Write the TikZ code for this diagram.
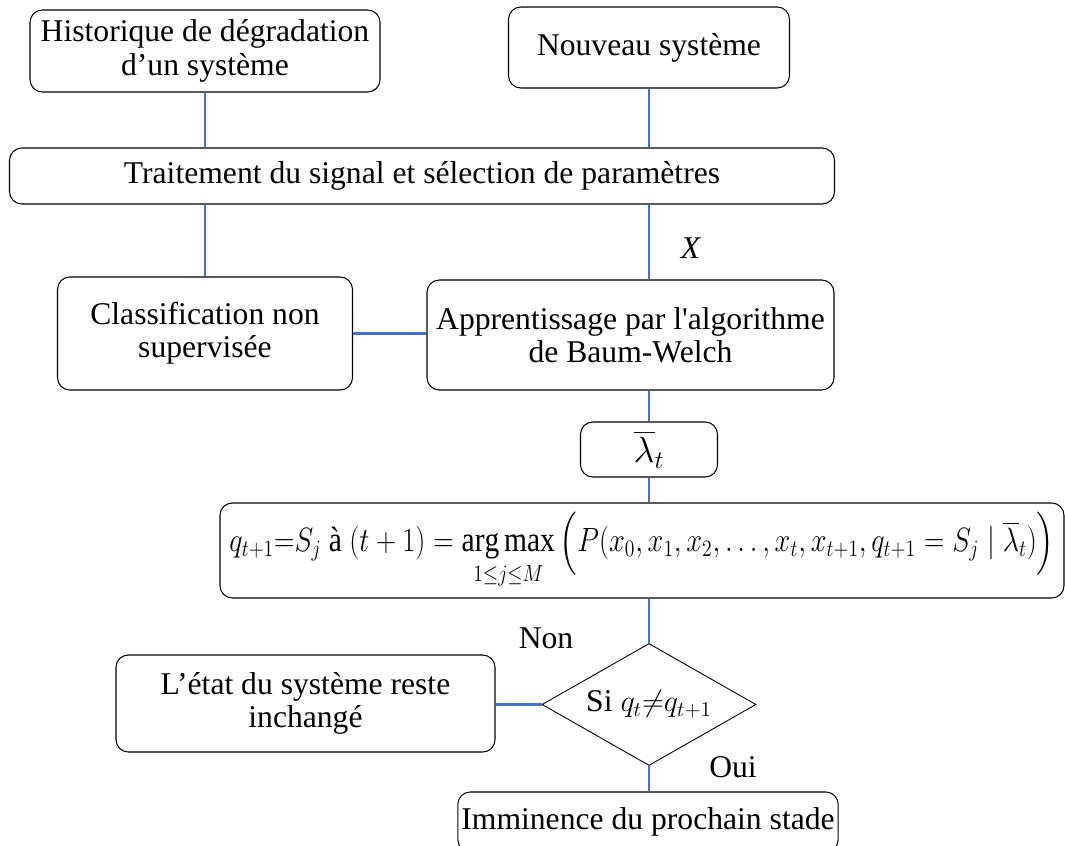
\documentclass[tikz,border=0pt]{standalone}
\usepackage{amsmath}
\usepackage{amssymb}
\usepackage{graphicx}
\usepackage{fontspec}
\setmainfont{Liberation Serif}
\usepackage{xcolor}
\usepackage{tikz}
\usetikzlibrary{shapes.geometric}
\definecolor{linkblue}{RGB}{68,114,196}

\begin{document}
\begin{tikzpicture}[
  box/.style={draw,rounded corners=7pt,line width=0.6pt,align=center,inner sep=2pt,font=\fontsize{18}{19}\selectfont},
  link/.style={draw=linkblue,line width=1.4pt},
  lbl/.style={font=\fontsize{18}{19}\selectfont}]
\useasboundingbox (0,0) rectangle (21.3,-16.92);
\node[box,minimum width=7cm,minimum height=1.64cm] (hist) at (4.1,-1.02) {Historique de dégradation\\d’un système};
\node[box,minimum width=5.62cm,minimum height=1.62cm] (nouv) at (12.98,-0.95) {Nouveau système};
\node[box,minimum width=16.5cm,minimum height=1.12cm] (trait) at (8.44,-3.52) {Traitement du signal et sélection de paramètres};
\node[box,minimum width=5.9cm,minimum height=2.26cm] (classif) at (4.1,-6.67) {Classification non\\supervisée};
\node[box,minimum width=8.14cm,minimum height=2.2cm] (appr) at (12.61,-6.7) {Apprentissage par l\textquotesingle algorithme\\de Baum-Welch};
\node[box,minimum width=2.74cm,minimum height=1.1cm] (lambda) at (12.98,-8.99) {\fontsize{20}{24}\selectfont$\overline{\lambda}_t$};
\node[box,minimum width=16.88cm,minimum height=1.9cm] (formula) at (12.84,-11.01) {\resizebox*{16.5cm}{1.55cm}{$q_{t+1}{=}S_j$ à $(t+1)=\mathop{\mathrm{arg\,max}}\limits_{1\le j\le M}\Big(P(x_0,x_1,x_2,\ldots,x_t,x_{t+1},q_{t+1}=S_j\mid\overline{\lambda}_t)\Big)$}};
\node[draw,diamond,line width=0.5pt,aspect=1.75,inner sep=0pt,minimum width=4.28cm,minimum height=2.44cm,lbl] (test) at (12.98,-14.09) {Si $q_t{\neq}q_{t+1}$};
\node[box,minimum width=7.58cm,minimum height=1.94cm] (etat) at (6.11,-14.07) {L’état du système reste\\inchangé};
\node[box,minimum width=7.56cm,minimum height=1.2cm] (immin) at (12.96,-16.44) {Imminence du prochain stade};
\node[lbl] (xlbl) at (13.82,-4.96) {\textit{X}};
\node[lbl] (non) at (10.92,-12.76) {Non};
\node[lbl] (oui) at (14.66,-15.34) {Oui};
\draw[link] (hist.south) -- (hist.south |- trait.north);
\draw[link] (nouv.south) -- (nouv.south |- trait.north);
\draw[link] (trait.south -| hist) -- (classif.north -| hist);
\draw[link] (trait.south -| nouv) -- (appr.north -| nouv);
\draw[link] (classif.east) -- (classif.east -| appr.west);
\draw[link] (appr.south -| lambda) -- (lambda.north);
\draw[link] (lambda.south) -- (lambda.south |- formula.north);
\draw[link] (formula.south -| test) -- (test.north);
\draw[link] (test.west) -- (test.west -| etat.east);
\draw[link] (test.south) -- (test.south |- immin.north);
\end{tikzpicture}
\end{document}
